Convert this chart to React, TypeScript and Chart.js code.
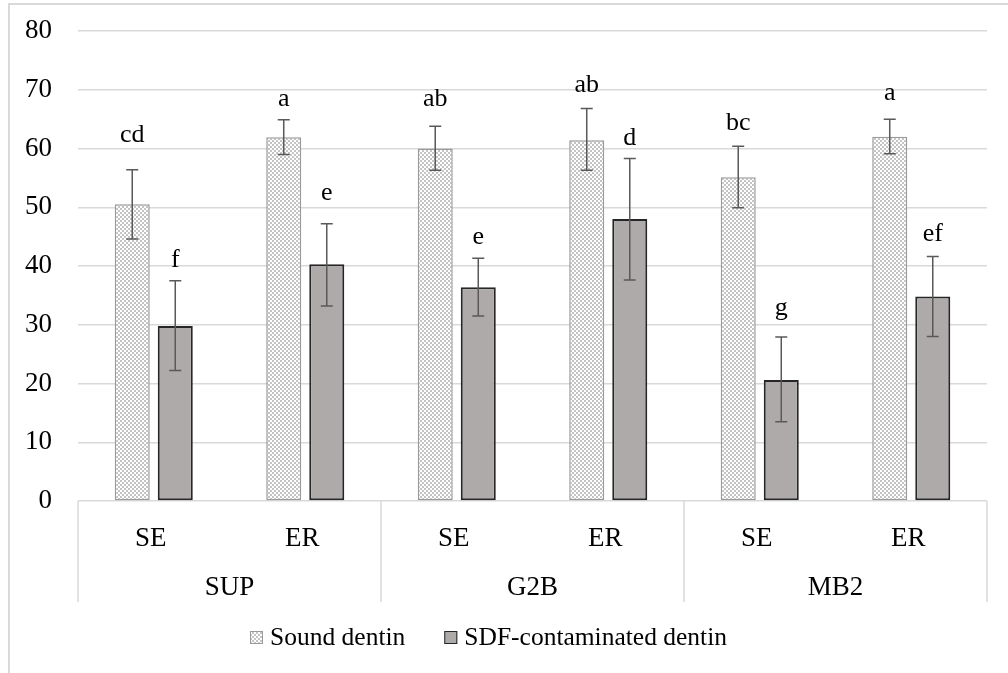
import React, { useEffect, useRef } from "react";
import { Chart, registerables } from "chart.js";

Chart.register(...registerables);

// ---- data ----
const groups = ["SUP", "G2B", "MB2"];
const methods = ["SE", "ER", "SE", "ER", "SE", "ER"];
const seriesNames = ["Sound dentin", "SDF-contaminated dentin"];

const soundMean = [50.5, 61.9, 60.0, 61.4, 55.1, 62.0];
const soundLow = [44.6, 59.0, 56.3, 56.3, 49.9, 59.1];
const soundHigh = [56.4, 64.9, 63.8, 66.8, 60.4, 65.0];

const sdfMean = [29.8, 40.3, 36.4, 48.0, 20.6, 34.8];
const sdfLow = [22.2, 33.2, 31.5, 37.6, 13.5, 28.0];
const sdfHigh = [37.5, 47.2, 41.3, 58.3, 27.9, 41.6];

const soundLetters = ["cd", "a", "ab", "ab", "bc", "a"];
const soundLetterAt = [61.1, 67.2, 67.3, 69.7, 63.2, 68.2];
const sdfLetters = ["f", "e", "e", "d", "g", "ef"];
const sdfLetterAt = [39.9, 51.3, 43.8, 60.6, 31.7, 44.2];

const yMin = 0;
const yMax = 80;
const yStep = 10;

const FONT = "'Liberation Serif', 'Times New Roman', serif";
const GRID = "#d9d9d9";
const TEXT = "#000000";
const SDF_FILL = "#aeaaaa";
const SDF_BORDER = "#262626";
const SOUND_BORDER = "#9a9a9a";
const ERR = "#595959";

function makePattern(): CanvasPattern | string {
  const c = document.createElement("canvas");
  c.width = 4;
  c.height = 4;
  const g = c.getContext("2d");
  if (!g) return "#e6e6e6";
  g.fillStyle = "#ffffff";
  g.fillRect(0, 0, 4, 4);
  g.fillStyle = "#c4c4c4";
  g.fillRect(0, 0, 2, 2);
  g.fillRect(2, 2, 2, 2);
  const p = g.createPattern(c, "repeat");
  return p || "#e6e6e6";
}

export default function App() {
  const ref = useRef<HTMLCanvasElement | null>(null);

  useEffect(() => {
    document.body.style.margin = "0";
    const canvas = ref.current;
    if (!canvas) return;
    const pattern = makePattern();

    const lows = [soundLow, sdfLow];
    const highs = [soundHigh, sdfHigh];
    const letters = [soundLetters, sdfLetters];
    const letterAt = [soundLetterAt, sdfLetterAt];

    const framePlugin = {
      id: "frame",
      beforeDraw(chart: any) {
        const ctx = chart.ctx;
        ctx.save();
        ctx.strokeStyle = GRID;
        ctx.lineWidth = 2;
        ctx.beginPath();
        ctx.moveTo(9, chart.height);
        ctx.lineTo(9, 4);
        ctx.lineTo(chart.width, 4);
        ctx.stroke();
        ctx.restore();
      },
    };

    const annotPlugin = {
      id: "annot",
      afterDatasetsDraw(chart: any) {
        const ctx = chart.ctx;
        const y = chart.scales.y;
        ctx.save();
        for (let d = 0; d < 2; d++) {
          const meta = chart.getDatasetMeta(d);
          meta.data.forEach((bar: any, i: number) => {
            const x = bar.x;
            const yl = y.getPixelForValue(lows[d][i]);
            const yh = y.getPixelForValue(highs[d][i]);
            ctx.strokeStyle = ERR;
            ctx.lineWidth = 1.5;
            ctx.beginPath();
            ctx.moveTo(x, yl);
            ctx.lineTo(x, yh);
            ctx.moveTo(x - 6, yl);
            ctx.lineTo(x + 6, yl);
            ctx.moveTo(x - 6, yh);
            ctx.lineTo(x + 6, yh);
            ctx.stroke();
            ctx.fillStyle = TEXT;
            ctx.font = `26px ${FONT}`;
            ctx.textAlign = "center";
            ctx.textBaseline = "alphabetic";
            ctx.fillText(letters[d][i], x, y.getPixelForValue(letterAt[d][i]));
          });
        }
        ctx.restore();
      },
      afterDraw(chart: any) {
        const ctx = chart.ctx;
        const xs = chart.scales.x;
        const area = chart.chartArea;
        ctx.save();
        const top = area.bottom;
        const bottom = top + 101;
        const n = methods.length;
        const per = n / groups.length;
        ctx.strokeStyle = GRID;
        ctx.lineWidth = 1.5;
        ctx.beginPath();
        for (let g = 0; g <= groups.length; g++) {
          let px: number;
          if (g === 0) px = area.left;
          else if (g === groups.length) px = area.right;
          else
            px =
              (xs.getPixelForValue(g * per - 1) + xs.getPixelForValue(g * per)) / 2;
          ctx.moveTo(px, top);
          ctx.lineTo(px, bottom);
        }
        ctx.stroke();

        ctx.fillStyle = TEXT;
        ctx.textAlign = "center";
        ctx.textBaseline = "alphabetic";
        ctx.font = `27px ${FONT}`;
        methods.forEach((m, i) => {
          ctx.fillText(m, xs.getPixelForValue(i) - 3, top + 45);
        });
        groups.forEach((gname, g) => {
          const c =
            (xs.getPixelForValue(g * per) + xs.getPixelForValue(g * per + per - 1)) / 2;
          ctx.fillText(gname, c, top + 94);
        });

        ctx.font = `25.5px ${FONT}`;
        ctx.textAlign = "left";
        const base = 645;
        const box = 13;
        let lx = 250;
        seriesNames.forEach((name, i) => {
          ctx.fillStyle = i === 0 ? (pattern as any) : SDF_FILL;
          ctx.fillRect(lx, base - box - 1, box, box);
          ctx.strokeStyle = i === 0 ? SOUND_BORDER : SDF_BORDER;
          ctx.lineWidth = 1;
          ctx.strokeRect(lx + 0.5, base - box - 0.5, box - 1, box - 1);
          ctx.fillStyle = TEXT;
          ctx.fillText(name, lx + box + 7, base);
          lx += box + 7 + ctx.measureText(name).width + 39;
        });
        ctx.restore();
      },
    };

    const chart = new Chart(canvas, {
      type: "bar",
      data: {
        labels: methods.map((m, i) => `${groups[Math.floor(i / 2)]} ${m}`),
        datasets: [
          {
            label: seriesNames[0],
            data: soundMean,
            backgroundColor: pattern as any,
            borderColor: SOUND_BORDER,
            borderWidth: 1.5,
            borderSkipped: false,
          },
          {
            label: seriesNames[1],
            data: sdfMean,
            backgroundColor: SDF_FILL,
            borderColor: SDF_BORDER,
            borderWidth: 2,
            borderSkipped: false,
          },
        ],
      },
      options: {
        animation: false,
        responsive: false,
        devicePixelRatio: 1,
        categoryPercentage: 0.568,
        barPercentage: 0.814,
        layout: { padding: { left: 0, right: 21, top: 31, bottom: 0 } },
        plugins: {
          legend: { display: false },
          tooltip: { enabled: false },
          title: { display: false },
        },
        scales: {
          x: {
            ticks: { display: false },
            grid: { display: false },
            border: { display: false },
            afterFit(scale: any) {
              scale.height = 172;
            },
          },
          y: {
            min: yMin,
            max: yMax,
            ticks: {
              stepSize: yStep,
              padding: 0,
              color: TEXT,
              font: { family: FONT, size: 27 },
            },
            grid: {
              color: GRID,
              lineWidth: 1.5,
              drawTicks: true,
              tickLength: 26,
              tickColor: "rgba(0,0,0,0)",
            },
            border: { display: false },
            afterFit(scale: any) {
              scale.width = 78;
            },
          },
        },
      } as any,
      plugins: [framePlugin, annotPlugin],
    });

    return () => {
      chart.destroy();
    };
  }, []);

  return (
    <div style={{ width: 1008, height: 673, background: "#fff" }}>
      <canvas ref={ref} width={1008} height={673} style={{ display: "block", width: 1008, height: 673 }} />
    </div>
  );
}
